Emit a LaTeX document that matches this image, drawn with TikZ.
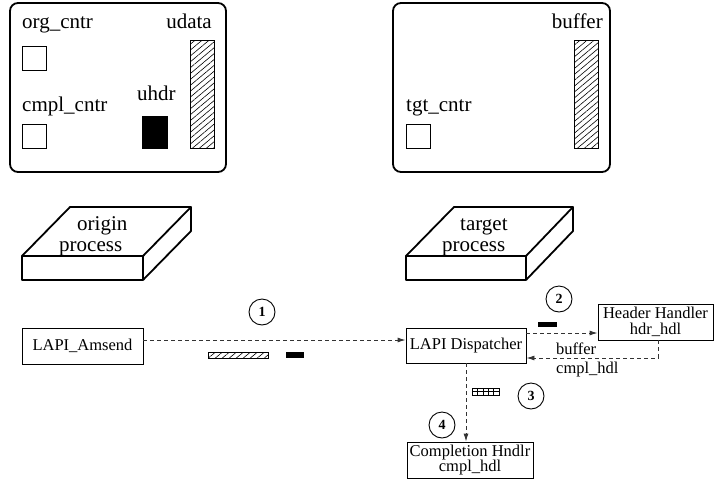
\documentclass[tikz,border=0pt]{standalone}
\usepackage{fontspec}
\setmainfont{Liberation Serif}
\usetikzlibrary{arrows.meta,patterns.meta}

\tikzset{
  membox/.style={draw, line width=1.8pt, rounded corners=8pt, inner sep=0pt},
  cntr/.style={draw, line width=0.8pt, minimum size=24pt, inner sep=0pt},
  hatched/.style={draw, line width=0.8pt, pattern={Lines[angle=40,distance=4.5pt,line width=0.6pt]}},
  biglbl/.style={font=\fontsize{21}{22}\selectfont, inner sep=0pt},
  smalllbl/.style={font=\fontsize{16.5}{15.5}\selectfont, inner sep=0pt},
  proc/.style={draw, line width=0.9pt, font=\fontsize{16.5}{15.5}\selectfont, align=center, inner sep=0pt},
  stepnum/.style={draw, circle, line width=0.9pt, minimum size=26pt, inner sep=0pt, font=\fontsize{14}{14}\selectfont\bfseries},
  msg/.style={dash pattern=on 4pt off 3pt, line width=0.9pt, draw=black!80, -{Latex[length=8pt,width=5pt]}},
  slab/.style={line width=1.8pt, line join=round},
}

\begin{document}
\begin{tikzpicture}[x=1pt, y=-1pt]
    \useasboundingbox (0,0) rectangle (714,480);

    % memory of the origin
    \node[membox, minimum width=216pt, minimum height=169pt] (orgmem) at (118,87.5) {};
    \node[biglbl, anchor=base west] (orgcntrlbl) at (22,28) {org\_cntr};
    \node[cntr] (orgcntr) at (34,58) {};
    \node[biglbl, anchor=base west] (cmplcntrlbl) at (22,111) {cmpl\_cntr};
    \node[cntr] (cmplcntr) at (34,136) {};
    \node[biglbl, anchor=base west] (uhdrlbl) at (137,100) {uhdr};
    \node[draw, fill=black, minimum width=25pt, minimum height=32pt, inner sep=0pt] (uhdr) at (154.5,132) {};
    \node[biglbl, anchor=base east] (udatalbl) at (212,28) {udata};
    \node[hatched, minimum width=24pt, minimum height=108pt, inner sep=0pt] (udata) at (202,94) {};

    % memory of the target
    \node[membox, minimum width=217pt, minimum height=169pt] (tgtmem) at (501.5,87.5) {};
    \node[biglbl, anchor=base east] (bufferlbl) at (603,28) {buffer};
    \node[hatched, minimum width=24pt, minimum height=108pt, inner sep=0pt] (buffer) at (586,94) {};
    \node[biglbl, anchor=base west] (tgtcntrlbl) at (406,111) {tgt\_cntr};
    \node[cntr] (tgtcntr) at (418,136) {};

    % the two processes
    \draw[slab] (22,256) rectangle (143,280);
    \draw[slab] (22,256) -- (70,207) -- (191,207) -- (143,256);
    \draw[slab] (191,207) -- (191,231) -- (143,280);
    \node[biglbl, anchor=base west] (origintop) at (77,230.5) {origin};
    \node[biglbl, anchor=base west] (originbot) at (59,251) {process};

    \draw[slab] (406,256) rectangle (526,280);
    \draw[slab] (406,256) -- (454,207) -- (573,207) -- (526,256);
    \draw[slab] (573,207) -- (573,231) -- (526,280);
    \node[biglbl, anchor=base west] (targettop) at (460,230.5) {target};
    \node[biglbl, anchor=base west] (targetbot) at (442,251) {process};

    % calls
    \node[proc, minimum width=121pt, minimum height=36pt] (amsend) at (82.5,346) {LAPI\_Amsend};
    \node[proc, minimum width=120pt, minimum height=35pt] (disp) at (466,345.5) {LAPI Dispatcher};
    \node[proc, minimum width=115pt, minimum height=36pt] (hdr) at (655.5,322) {Header Handler\\hdr\_hdl};
    \node[proc, minimum width=126pt, minimum height=36pt] (compl) at (470,460) {Completion Hndlr\\cmpl\_hdl};

    \node[stepnum] (s1) at (262,312) {1};
    \node[stepnum] (s2) at (559,299) {2};
    \node[stepnum] (s3) at (531,396) {3};
    \node[stepnum] (s4) at (442,425) {4};

    \draw[msg] ([yshift=6pt]amsend.east) -- ([yshift=6pt]amsend.east -| disp.west);
    \draw[msg] ([yshift=12.5pt]disp.east) -- ([yshift=12.5pt]disp.east -| hdr.west);
    \draw[msg] ([xshift=2.5pt]hdr.south) |- ([yshift=-12.5pt]disp.east);
    \draw[msg] (disp.south) -- (disp.south |- compl.north);

    \node[smalllbl, anchor=base west] (retbuf) at (556,354) {buffer};
    \node[smalllbl, anchor=base west] (retcmpl) at (556,373) {cmpl\_hdl};

    % data on the way
    \draw[hatched, line width=0.7pt] (208,352) rectangle (268,358);
    \fill (286,352) rectangle (304,358);
    \fill (538,322) rectangle (557,327);
    \draw[line width=0.6pt] (472,388) rectangle (499,395);
    \draw[line width=0.6pt] (472,391.5) -- (499,391.5);
    \foreach \gx in {477.4,482.8,488.2,493.6}
        \draw[line width=0.6pt] (\gx,388) -- (\gx,395);
\end{tikzpicture}
\end{document}
